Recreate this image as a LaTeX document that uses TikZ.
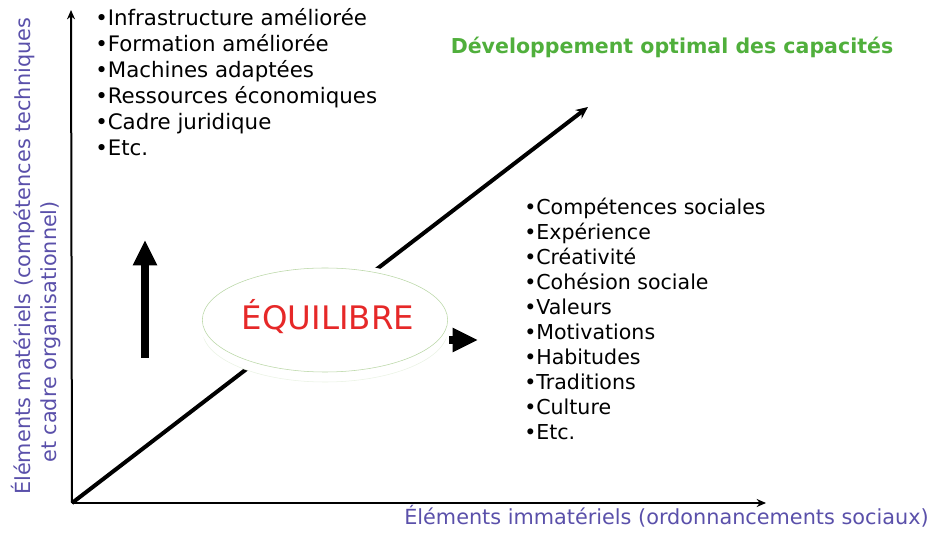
\documentclass[tikz,border=0pt]{standalone}
\usepackage{fontspec}
\setmainfont{DejaVu Sans}
\usetikzlibrary{arrows.meta}
\usetikzlibrary{shapes.geometric}

\definecolor{axislabel}{RGB}{90,80,170}
\definecolor{titlegreen}{RGB}{80,175,60}
\definecolor{eqred}{RGB}{230,40,40}
\definecolor{ringgreen}{RGB}{185,215,165}

\begin{document}
\begin{tikzpicture}[x=0.75pt, y=-0.75pt,
                axis/.style={-{Stealth[length=7pt, width=6pt]}, line width=1.5pt},
                diagarrow/.style={-{Stealth[length=9pt, width=8pt]}, line width=3pt},
                bigarrow/.style={-{Triangle[length=19pt, width=17pt]}, line width=6pt},
                itemtext/.style={anchor=base west, inner sep=0pt, font=\fontsize{15.4}{18}\selectfont},
                axislabeltext/.style={anchor=base west, inner sep=0pt, text=axislabel, font=\fontsize{15.6}{18}\selectfont},
                eqring/.style={ellipse, draw=ringgreen, fill=white, minimum width=184pt, minimum height=78pt},
                ]
                \useasboundingbox (0,0) rectangle (928,541);

                \coordinate (O) at (72,503);
                \coordinate (ytop) at (71,10);
                \coordinate (xend) at (766,503);
                \coordinate (diagtip) at (588,107);

                % axes and the diagonal
                \draw[axis] (O) -- (ytop);
                \draw[axis] (O) -- (xend);
                \draw[diagarrow] (O) -- (diagtip);

                % equilibre bubble with its faint shadow
                \node[eqring, draw=ringgreen!30] (eqshadow) at (325,330) {};
                \node[eqring, preaction={draw=white, line width=7pt}] (eq) at (325,320) {};
                \node[anchor=base, inner sep=0pt, text=eqred, font=\fontsize{24.3}{28}\selectfont] (eqtext) at (328,330) {ÉQUILIBRE};

                % the two thick arrows
                \coordinate (upbase) at (145,358);
                \coordinate (uptip) at (145,240);
                \draw[bigarrow] (upbase) -- (uptip);
                \coordinate (rbase) at (449,340);
                \coordinate (rtip) at (478,340);
                \draw[bigarrow] (rbase) -- (rtip);

                % material items
                \foreach \t [count=\i] in {Infrastructure améliorée, Formation améliorée, Machines adaptées,
                                          Ressources économiques, Cadre juridique, Etc.}
                  \node[itemtext, font=\fontsize{16}{19}\selectfont] (mat\i) at (95,26*\i) {•\t};

                % immaterial items
                \foreach \t [count=\i] in {Compétences sociales, Expérience, Créativité, Cohésion sociale,
                                          Valeurs, Motivations, Habitudes, Traditions, Culture, Etc.}
                  \node[itemtext] (imm\i) at (524,190+25*\i) {•\t};

                \node[anchor=base, inner sep=0pt, text=titlegreen, font=\bfseries\fontsize{15.4}{18}\selectfont] (title) at (672,54) {Développement optimal des capacités};

                % axis labels
                \node[axislabeltext] (xlabel) at (404,524) {Éléments immatériels (ordonnancements sociaux)};
                \node[axislabeltext, rotate=90] (ylabel) at (31,495) {Éléments matériels (compétences techniques};
                \node[axislabeltext, rotate=90] (ylabelb) at (56,463) {et cadre organisationnel)};
            \end{tikzpicture}
\end{document}
